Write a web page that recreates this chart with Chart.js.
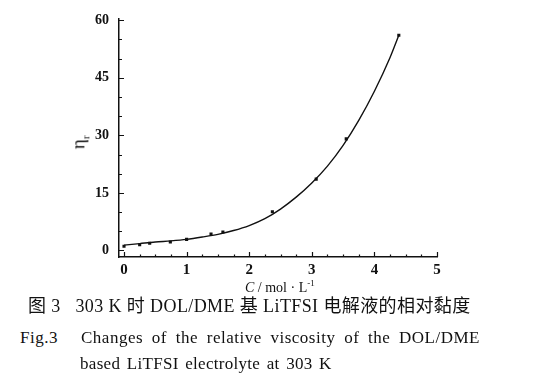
<!DOCTYPE html>
<html>
<head>
<meta charset="utf-8">
<script src="https://cdn.jsdelivr.net/npm/chart.js@4"></script>
<style>
body { margin: 0; background: #fff; width: 547px; height: 392px; overflow: hidden; position: relative; font-family: "Liberation Serif", "Noto Sans CJK SC", serif; color: #111; }
#wrap { position: absolute; left: 0; top: 0; width: 547px; height: 290px; }
.t { position: absolute; white-space: nowrap; line-height: 1; }
</style>
</head>
<body>
<div id="wrap"><canvas id="c" width="547" height="290"></canvas></div>
<div class="t" style="left:73px;top:131px;font-size:19px;transform:rotate(-90deg);transform-origin:center;">η<sub style="font-size:11px;">r</sub></div>
<div class="t" style="left:245px;top:279px;font-size:14px;"><i>C</i> / mol · L<sup style="font-size:9px;">-1</sup></div>
<div class="t" style="left:28px;top:297px;font-size:18px;letter-spacing:0.4px;">图 3&nbsp;&nbsp;&nbsp;303 K 时 DOL/DME 基 LiTFSI 电解液的相对黏度</div>
<div class="t" style="left:20px;top:329px;font-size:17px;letter-spacing:0.5px;">Fig.3</div>
<div class="t" style="left:81px;top:329px;font-size:17px;letter-spacing:0.5px;word-spacing:4px;">Changes of the relative viscosity of the DOL/DME</div>
<div class="t" style="left:80px;top:355px;font-size:17px;letter-spacing:0.3px;word-spacing:2px;">based LiTFSI electrolyte at 303 K</div>
<script>
// measured points (C in mol/L, relative viscosity)
const concData = [0, 0.25, 0.41, 0.74, 1.0, 1.39, 1.58, 2.37, 3.07, 3.55, 4.39];
const viscData = [1.1, 1.5, 1.9, 2.2, 2.9, 4.3, 4.8, 10.1, 18.6, 29.1, 56.1];

// fitted curve
const fitConc = [0, 0.25, 0.5, 0.75, 1.0, 1.25, 1.5, 1.75, 2.0, 2.25, 2.5, 2.75, 3.0, 3.25, 3.5, 3.75, 4.0, 4.25, 4.39];
const fitVisc = [1.4, 1.8, 2.2, 2.5, 2.9, 3.5, 4.2, 5.2, 6.5, 8.3, 10.8, 13.9, 17.6, 22.0, 27.4, 33.9, 41.5, 50.3, 56.1];

const xTicks = [0, 1, 2, 3, 4, 5];
const yTicks = [0, 15, 30, 45, 60];

const inwardTicks = {
    id: 'inwardTicks',
    afterDraw(chart) {
        const ctx = chart.ctx;
        const area = chart.chartArea;
        const xs = chart.scales.x, ys = chart.scales.y;
        ctx.save();
        ctx.strokeStyle = '#111';
        ctx.lineWidth = 1.2;
        ctx.beginPath();
        for (let v = 0; v <= 60; v += 5) {
            const py = Math.round(ys.getPixelForValue(v)) + 0.5;
            const len = v % 15 === 0 ? 5 : 3;
            ctx.moveTo(area.left, py);
            ctx.lineTo(area.left + len, py);
        }
        for (let i = 0; i <= 20; i++) {
            const v = i * 0.25;
            const px = Math.round(xs.getPixelForValue(v)) + 0.5;
            const len = i % 4 === 0 ? 5 : 2.5;
            ctx.moveTo(px, area.bottom);
            ctx.lineTo(px, area.bottom - len);
        }
        ctx.stroke();
        ctx.restore();
    }
};

new Chart(document.getElementById('c'), {
    type: 'scatter',
    data: {
        datasets: [
            {
                label: 'fit',
                data: fitConc.map((c, i) => ({ x: c, y: fitVisc[i] })),
                showLine: true,
                borderColor: '#111',
                borderWidth: 1.4,
                pointRadius: 0,
                cubicInterpolationMode: 'monotone',
                fill: false
            },
            {
                label: 'measured',
                data: concData.map((c, i) => ({ x: c, y: viscData[i] })),
                pointStyle: 'rect',
                pointRadius: 2.2,
                backgroundColor: '#111',
                borderColor: '#111',
                borderWidth: 0
            }
        ]
    },
    options: {
        responsive: false,
        animation: false,
        layout: { padding: { top: 16, right: 110, left: 0, bottom: 0 } },
        plugins: { legend: { display: false }, tooltip: { enabled: false } },
        scales: {
            x: {
                type: 'linear',
                min: -0.08,
                max: 5,
                afterBuildTicks: s => { s.ticks = xTicks.map(v => ({ value: v })); },
                afterFit: s => { s.height = 33; },
                grid: { display: false, drawTicks: false },
                border: { display: true, color: '#111', width: 1.5 },
                ticks: { color: '#111', padding: 4, font: { family: 'Liberation Serif', size: 15, weight: 'bold' } }
            },
            y: {
                type: 'linear',
                min: -1.7,
                max: 60.5,
                afterBuildTicks: s => { s.ticks = yTicks.map(v => ({ value: v })); },
                afterFit: s => { s.width = 119; },
                grid: { display: false, drawTicks: false },
                border: { display: true, color: '#111', width: 1.5 },
                ticks: { color: '#111', padding: 10, font: { family: 'Liberation Serif', size: 14, weight: 'bold' } }
            }
        }
    },
    plugins: [inwardTicks]
});
</script>
</body>
</html>
